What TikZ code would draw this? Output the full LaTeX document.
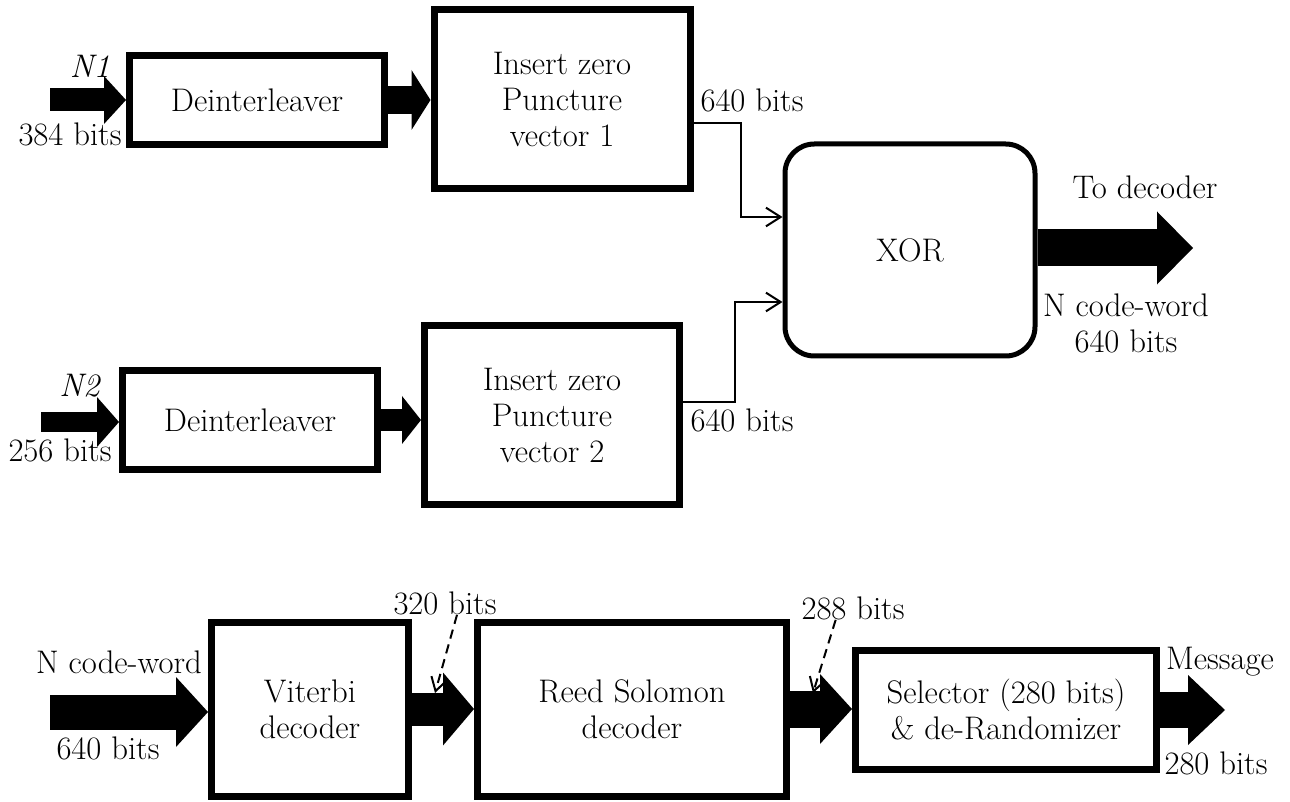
\documentclass[tikz,border=0pt]{standalone}
\usepackage{fontspec}
\usepackage{tikz}
\usetikzlibrary{arrows.meta}

\newcommand{\txt}{\fontsize{24.5}{27}\selectfont}

\tikzset{
  blk/.style 2 args={draw, line width=5.25pt, minimum width=#1*0.75pt, minimum height=#2*0.75pt, align=center, inner sep=0pt, font=\txt},
  rblk/.style 2 args={draw, line width=3.75pt, rounded corners=22pt, minimum width=#1*0.75pt, minimum height=#2*0.75pt, align=center, inner sep=0pt, font=\txt},
  lbl/.style={font=\txt, inner sep=0pt, align=center},
  fat/.style n args={3}{line width=#1, -{Triangle[length=#2, width=#3, line width=0pt]}},
  wire/.style={line width=1.5pt, -{Straight Barb[length=11pt, width=14pt]}},
  dwire/.style={line width=1.5pt, dash pattern=on 7pt off 4.5pt, -{Straight Barb[length=10pt, width=12pt]}}
}

\begin{document}
\begin{tikzpicture}[x=0.75pt,y=0.75pt,yscale=-1,xscale=1]
\useasboundingbox (0,0) rectangle (1290,802);

%Shape: Rectangle [Deinterleaver, top]
\node (de1) at (257,100) [blk={255}{89}] {Deinterleaver};
%Shape: Rectangle [Insert zero 1]
\node (ins1) at (562,99) [blk={256}{179}] {Insert zero\\Puncture\\vector 1};
%Shape: Rectangle [Deinterleaver, bottom]
\node (de2) at (250,420) [blk={255}{99}] {Deinterleaver};
%Shape: Rectangle [Insert zero 2]
\node (ins2) at (552,415) [blk={255}{179}] {Insert zero\\Puncture\\vector 2};
%Shape: Rounded rectangle [XOR]
\node (xor) at (910,250) [rblk={250}{212}] {XOR};

%Shape: Rectangle [Viterbi]
\node (vit) at (310,709) [blk={197}{174}] {Viterbi\\decoder};
%Shape: Rectangle [Reed Solomon]
\node (rs) at (632,709) [blk={309}{174}] {Reed Solomon\\decoder};
%Shape: Rectangle [Selector]
\node (sel) at (1006,710) [blk={301}{119}] {Selector (280 bits)\\\& de-Randomizer};

%free ends
\coordinate (n1) at (50,100);
\coordinate (n2) at (41,422);
\coordinate (dec) at (1193,248);
\coordinate (cw) at (50,712);
\coordinate (msg) at (1225,710);
\coordinate (p320) at (435,693);
\coordinate (p288) at (813,693);

%Block arrows
\draw [fat={17.25pt}{16.5pt}{36pt}] (n1) -- (n1 -| de1.west);
\draw [fat={21pt}{14.25pt}{45pt}] (de1.east) -- (de1.east -| ins1.west);
\draw [fat={15pt}{16.5pt}{37.5pt}] (n2) -- (n2 -| de2.west);
\draw [fat={16.5pt}{14.25pt}{36pt}] (de2.east) -- (de2.east -| ins2.west);
\draw [fat={27.75pt}{27pt}{54.75pt}] (xor.east |- dec) -- (dec);
\draw [fat={26.25pt}{24pt}{52.5pt}] (cw) -- (cw -| vit.west);
\draw [fat={24.75pt}{23.25pt}{54.75pt}] (vit.east) -- (vit.east -| rs.west);
\draw [fat={27.75pt}{24pt}{52.5pt}] (rs.east) -- (rs.east -| sel.west);
\draw [fat={27pt}{27.75pt}{52.5pt}] (sel.east) -- (msg);

%Straight Lines [to XOR]
\draw [wire] ([yshift=18pt]ins1.east) -- ++(47,0) |- ([yshift=-24.75pt]xor.west);
\draw [wire] ([yshift=-9.75pt]ins2.east) -- ++(52,0) |- ([yshift=39pt]xor.west);

% Text Node
\node (tn1) at (90,66) [lbl] {\textit{N1}};
% Text Node
\node (t384) at (70,134) [lbl] {384 bits};
% Text Node
\node (tn2) at (80,386) [lbl] {\textit{N2}};
% Text Node
\node (t256) at (60,450) [lbl] {256 bits};
% Text Node
\node (t640a) at (752,100) [lbl] {640 bits};
% Text Node
\node (t640b) at (742,420) [lbl] {640 bits};
% Text Node
\node (tdec) at (1145,187) [lbl] {To decoder};
% Text Node
\node (tcw) at (1126,323) [lbl] {N code-word\\640 bits};

% Text Node
\node (tcw2) at (119,662) [lbl] {N code-word};
% Text Node
\node (t640c) at (108,748) [lbl] {640 bits};
% Text Node
\node (t320) at (445,603) [lbl] {320 bits};
% Text Node
\node (t288) at (853,608) [lbl] {288 bits};
% Text Node
\node (tmsg) at (1220,662) [lbl] {Message};
% Text Node
\node (t280) at (1216,763) [lbl] {280 bits};

%Dashed pointers
\draw [dwire] ([xshift=9pt]t320.south) -- (p320);
\draw [dwire] ([xshift=-13pt]t288.south) -- (p288);

\end{tikzpicture}
\end{document}
